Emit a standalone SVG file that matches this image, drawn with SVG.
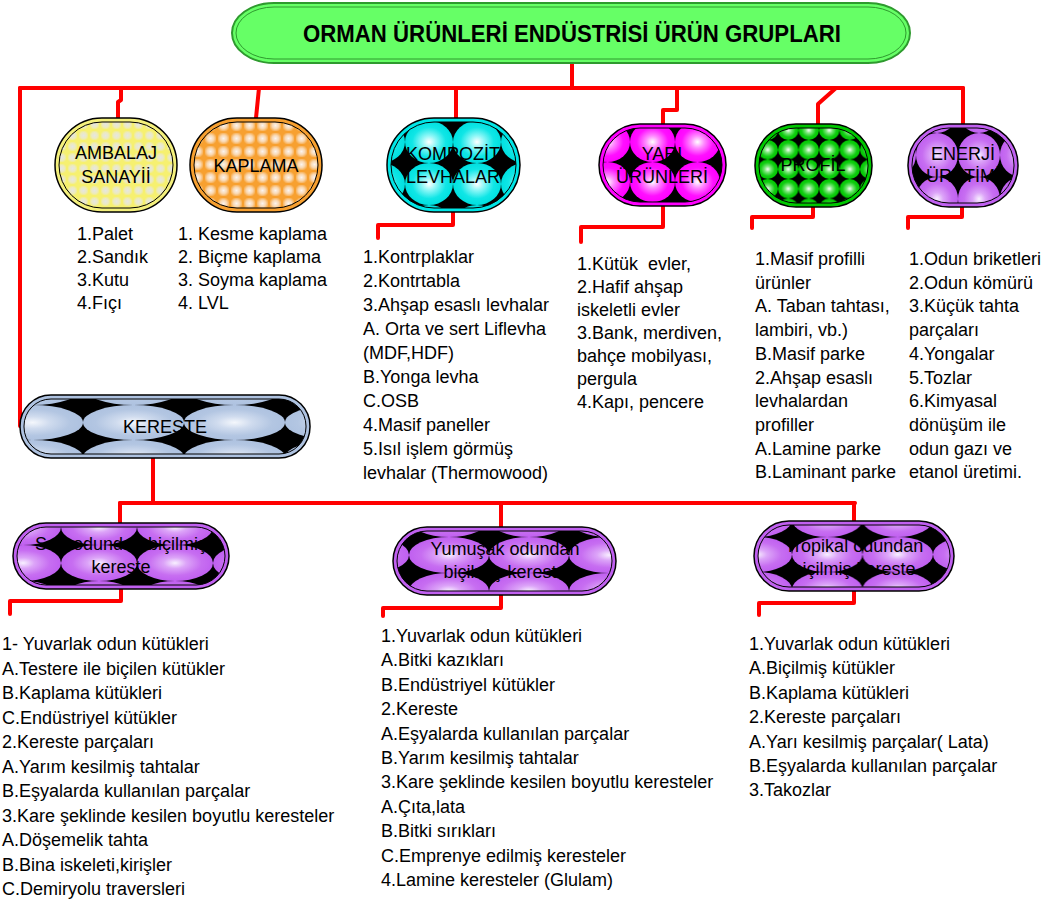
<svg xmlns="http://www.w3.org/2000/svg" width="1052" height="899" viewBox="0 0 1052 899">
<style>
text{font-family:"Liberation Sans",Arial,sans-serif;font-size:18px;fill:#000}
.lbl{text-anchor:middle}
.title{font-weight:bold;font-size:23px;text-anchor:middle}
.conn{fill:none;stroke:#ff0000;stroke-width:4;stroke-linejoin:round;stroke-linecap:round}
.outer{stroke:#000;stroke-width:1.5}
.inner{stroke:#000;stroke-width:1}
</style>
<defs>
<radialGradient id="gCyan" cx="0.5" cy="0.5" r="0.5"><stop offset="0" stop-color="#ffffff"/><stop offset="0.3" stop-color="#8ff7f7"/><stop offset="0.7" stop-color="#10e6e6"/><stop offset="1" stop-color="#00e0e0"/></radialGradient>
<radialGradient id="gMag" cx="0.5" cy="0.5" r="0.5"><stop offset="0" stop-color="#ffffff"/><stop offset="0.3" stop-color="#ff8cff"/><stop offset="0.7" stop-color="#ff10ff"/><stop offset="1" stop-color="#ff00ff"/></radialGradient>
<radialGradient id="gGreen" cx="0.5" cy="0.5" r="0.5"><stop offset="0" stop-color="#ffffff"/><stop offset="0.3" stop-color="#7ee87e"/><stop offset="0.7" stop-color="#10cc10"/><stop offset="1" stop-color="#00c800"/></radialGradient>
<radialGradient id="gPur" cx="0.5" cy="0.5" r="0.5"><stop offset="0" stop-color="#f8f0ff"/><stop offset="0.3" stop-color="#dca4f8"/><stop offset="0.7" stop-color="#c76ef1"/><stop offset="1" stop-color="#c060f0"/></radialGradient>
<radialGradient id="gBlue" cx="0.5" cy="0.5" r="0.5"><stop offset="0" stop-color="#f4f7fc"/><stop offset="0.35" stop-color="#cfdbee"/><stop offset="0.75" stop-color="#b3c6e2"/><stop offset="1" stop-color="#aec2e0"/></radialGradient>
<radialGradient id="gYel" cx="0.5" cy="0.5" r="0.6"><stop offset="0" stop-color="#e6e6e2"/><stop offset="0.55" stop-color="#eceabf"/><stop offset="1" stop-color="#f6f070"/></radialGradient>
<radialGradient id="gOr" cx="0.5" cy="0.5" r="0.6"><stop offset="0" stop-color="#fbf4ee"/><stop offset="0.5" stop-color="#f9d7b0"/><stop offset="1" stop-color="#f7a030"/></radialGradient>
<pattern id="pAmb" patternUnits="userSpaceOnUse" x="56" y="119" width="11" height="11"><rect width="11" height="11" fill="#f6f070"/><rect x="1" y="1" width="9" height="9" fill="url(#gYel)"/></pattern>
<pattern id="pKap" patternUnits="userSpaceOnUse" x="191" y="119" width="13" height="13"><rect width="13" height="13" fill="#f7a030"/><rect x="1" y="1" width="11" height="11" fill="url(#gOr)"/></pattern>
<pattern id="pKomp" patternUnits="userSpaceOnUse" x="405" y="163" width="48" height="42"><rect width="48" height="42" fill="#000"/><ellipse cx="24" cy="21" rx="24" ry="21" fill="url(#gCyan)"/></pattern>
<pattern id="pYari" patternUnits="userSpaceOnUse" x="675" y="162" width="45" height="40"><rect width="45" height="40" fill="#000"/><ellipse cx="22.5" cy="20" rx="22.5" ry="20" fill="url(#gMag)"/></pattern>
<pattern id="pProf" patternUnits="userSpaceOnUse" x="778" y="140" width="20.5" height="19.5"><rect width="20.5" height="19.5" fill="#000"/><ellipse cx="10.25" cy="9.75" rx="10.25" ry="9.75" fill="url(#gGreen)"/></pattern>
<pattern id="pEner" patternUnits="userSpaceOnUse" x="958" y="133" width="42" height="44"><rect width="42" height="44" fill="#000"/><ellipse cx="21" cy="22" rx="21" ry="22" fill="url(#gPur)"/></pattern>
<pattern id="pKer" patternUnits="userSpaceOnUse" x="83" y="405" width="101" height="35"><rect width="101" height="35" fill="#000"/><ellipse cx="50.5" cy="17.5" rx="50.5" ry="17.5" fill="url(#gBlue)"/></pattern>
<pattern id="pSert" patternUnits="userSpaceOnUse" x="137" y="545" width="76" height="36"><rect width="76" height="36" fill="#000"/><ellipse cx="38" cy="18" rx="38" ry="18" fill="url(#gPur)"/></pattern>
<pattern id="pYum" patternUnits="userSpaceOnUse" x="489" y="537" width="80" height="36"><rect width="80" height="36" fill="#000"/><ellipse cx="40" cy="18" rx="40" ry="18" fill="url(#gPur)"/></pattern>
<pattern id="pTrop" patternUnits="userSpaceOnUse" x="792" y="537" width="70.5" height="35"><rect width="70.5" height="35" fill="#000"/><ellipse cx="35.25" cy="17.5" rx="35.25" ry="17.5" fill="url(#gPur)"/></pattern>
</defs>
<rect width="1052" height="899" fill="#fff"/>

<g id="connectors">
<path class="conn" d="M572,63 V88"/>
<path class="conn" d="M20,88 H963"/>
<path class="conn" d="M20,88 V426"/>
<path class="conn" d="M121,88 V100 L118,102 V118"/>
<path class="conn" d="M259,88 L256,118"/>
<path class="conn" d="M456,88 V118"/>
<path class="conn" d="M677,88 V110 H663 V124"/>
<path class="conn" d="M836,88 L818,104 V124"/>
<path class="conn" d="M963,88 V124"/>
<path class="conn" d="M453,212 V225 H378 V238"/>
<path class="conn" d="M663,206 V227 H581 V242"/>
<path class="conn" d="M813,207 V217 H752 V228"/>
<path class="conn" d="M962,207 V217 H908 V228"/>
<path class="conn" d="M153,458 V503"/>
<path class="conn" d="M120,503 H855"/>
<path class="conn" d="M120,503 V523"/>
<path class="conn" d="M501,503 V528"/>
<path class="conn" d="M854,503 V521"/>
<path class="conn" d="M121,589 V601 H10 V614"/>
<path class="conn" d="M501,595 V608 H383 V616"/>
<path class="conn" d="M854,591 V603 H759 V615"/>
</g>

<g id="title">
<rect x="232" y="3" width="678" height="60" rx="42" ry="30" fill="#66ff66" stroke="#2e9a2e" stroke-width="2"/>
<rect x="236" y="7" width="670" height="52" rx="38" ry="26" fill="none" stroke="#2e9a2e" stroke-width="1"/>
<text class="title" x="572" y="42" textLength="538" lengthAdjust="spacingAndGlyphs">ORMAN ÜRÜNLERİ ENDÜSTRİSİ ÜRÜN GRUPLARI</text>
</g>

<g id="ambalaj">
<rect class="outer" x="55" y="118" width="122" height="94" rx="47" ry="47" fill="#f4f07c"/>
<rect class="inner" x="59" y="122" width="114" height="86" rx="43" ry="43" fill="url(#pAmb)"/>
<text class="lbl" x="116" y="159">AMBALAJ</text>
<text class="lbl" x="116" y="183">SANAYİİ</text>
</g>

<g id="kaplama">
<rect class="outer" x="190" y="118" width="132" height="94" rx="47" ry="47" fill="#f7a030"/>
<rect class="inner" x="194" y="122" width="124" height="86" rx="43" ry="43" fill="url(#pKap)"/>
<text class="lbl" x="256" y="172">KAPLAMA</text>
</g>

<g id="kompozit">
<rect class="outer" x="387" y="118" width="133" height="94" rx="47" ry="47" fill="#00e6e6"/>
<rect class="inner" x="391" y="122" width="125" height="86" rx="43" ry="43" fill="url(#pKomp)"/>
<text class="lbl" x="453" y="160">KOMPOZİT</text>
<text class="lbl" x="453" y="183">LEVHALAR</text>
</g>

<g id="yari">
<rect class="outer" x="599" y="124" width="127" height="82" rx="41" ry="41" fill="#ff00ff"/>
<rect class="inner" x="603" y="128" width="119" height="74" rx="37" ry="37" fill="url(#pYari)"/>
<text class="lbl" x="662" y="160">YARI</text>
<text class="lbl" x="662" y="183">ÜRÜNLERİ</text>
</g>

<g id="profil">
<rect class="outer" x="755" y="124" width="117" height="83" rx="41" ry="41" fill="#00c800"/>
<rect class="inner" x="759" y="128" width="109" height="75" rx="37" ry="37" fill="url(#pProf)"/>
<text class="lbl" x="813" y="171">PROFİL</text>
</g>

<g id="enerji">
<rect class="outer" x="908" y="124" width="110" height="83" rx="41" ry="41" fill="#c060f0"/>
<rect class="inner" x="912" y="128" width="102" height="75" rx="37" ry="37" fill="url(#pEner)"/>
<text class="lbl" x="963" y="160">ENERJİ</text>
<text class="lbl" x="963" y="182">ÜRETİMİ</text>
</g>

<g id="kereste">
<rect class="outer" x="20" y="395" width="290" height="63" rx="31" ry="31" fill="#aec2e0"/>
<rect class="inner" x="24" y="399" width="282" height="55" rx="27" ry="27" fill="url(#pKer)"/>
<text class="lbl" x="165" y="433">KERESTE</text>
</g>

<g id="sert">
<rect class="outer" x="13" y="523" width="216" height="66" rx="33" ry="33" fill="#c060f0"/>
<rect class="inner" x="17" y="527" width="208" height="58" rx="29" ry="29" fill="url(#pSert)"/>
<text class="lbl" x="121" y="550">Sert odundan biçilmiş</text>
<text class="lbl" x="121" y="573">kereste</text>
</g>

<g id="yumusak">
<rect class="outer" x="393" y="527" width="223" height="68" rx="34" ry="34" fill="#c060f0"/>
<rect class="inner" x="397" y="531" width="215" height="60" rx="30" ry="30" fill="url(#pYum)"/>
<text class="lbl" x="505" y="555">Yumuşak odundan</text>
<text class="lbl" x="505" y="578">biçilmiş kereste</text>
</g>

<g id="tropikal">
<rect class="outer" x="754" y="521" width="200" height="70" rx="35" ry="35" fill="#c060f0"/>
<rect class="inner" x="758" y="525" width="192" height="62" rx="31" ry="31" fill="url(#pTrop)"/>
<text class="lbl" x="854" y="552">Tropikal odundan</text>
<text class="lbl" x="854" y="575">biçilmiş kereste</text>
</g>

<g id="list-ambalaj">
<text x="77" y="240"><tspan x="77">1.Palet</tspan><tspan x="77" dy="23">2.Sandık</tspan><tspan x="77" dy="23">3.Kutu</tspan><tspan x="77" dy="23">4.Fıçı</tspan></text>
</g>
<g id="list-kaplama">
<text x="178" y="240"><tspan x="178">1. Kesme kaplama</tspan><tspan x="178" dy="23">2. Biçme kaplama</tspan><tspan x="178" dy="23">3. Soyma kaplama</tspan><tspan x="178" dy="23">4. LVL</tspan></text>
</g>
<g id="list-kompozit">
<text x="363" y="263"><tspan x="363">1.Kontrplaklar</tspan><tspan x="363" dy="24">2.Kontrtabla</tspan><tspan x="363" dy="24">3.Ahşap esaslı levhalar</tspan><tspan x="363" dy="24">A. Orta ve sert Liflevha</tspan><tspan x="363" dy="24">(MDF,HDF)</tspan><tspan x="363" dy="24">B.Yonga levha</tspan><tspan x="363" dy="24">C.OSB</tspan><tspan x="363" dy="24">4.Masif paneller</tspan><tspan x="363" dy="24">5.Isıl işlem görmüş</tspan><tspan x="363" dy="24">levhalar (Thermowood)</tspan></text>
</g>
<g id="list-yari">
<text x="577" y="270" xml:space="preserve"><tspan x="577">1.Kütük  evler,</tspan><tspan x="577" dy="23">2.Hafif ahşap</tspan><tspan x="577" dy="23">iskeletli evler</tspan><tspan x="577" dy="23">3.Bank, merdiven,</tspan><tspan x="577" dy="23">bahçe mobilyası,</tspan><tspan x="577" dy="23">pergula</tspan><tspan x="577" dy="23">4.Kapı, pencere</tspan></text>
</g>
<g id="list-profil">
<text x="755" y="265"><tspan x="755">1.Masif profilli</tspan><tspan x="755" dy="23.7">ürünler</tspan><tspan x="755" dy="23.7">A. Taban tahtası,</tspan><tspan x="755" dy="23.7">lambiri, vb.)</tspan><tspan x="755" dy="23.7">B.Masif parke</tspan><tspan x="755" dy="23.7">2.Ahşap esaslı</tspan><tspan x="755" dy="23.7">levhalardan</tspan><tspan x="755" dy="23.7">profiller</tspan><tspan x="755" dy="23.7">A.Lamine parke</tspan><tspan x="755" dy="23.7">B.Laminant parke</tspan></text>
</g>
<g id="list-enerji">
<text x="909" y="265"><tspan x="909">1.Odun briketleri</tspan><tspan x="909" dy="23.7">2.Odun kömürü</tspan><tspan x="909" dy="23.7">3.Küçük tahta</tspan><tspan x="909" dy="23.7">parçaları</tspan><tspan x="909" dy="23.7">4.Yongalar</tspan><tspan x="909" dy="23.7">5.Tozlar</tspan><tspan x="909" dy="23.7">6.Kimyasal</tspan><tspan x="909" dy="23.7">dönüşüm ile</tspan><tspan x="909" dy="23.7">odun gazı ve</tspan><tspan x="909" dy="23.7">etanol üretimi.</tspan></text>
</g>
<g id="list-sert">
<text x="2" y="650"><tspan x="2">1- Yuvarlak odun kütükleri</tspan><tspan x="2" dy="24.5">A.Testere ile biçilen kütükler</tspan><tspan x="2" dy="24.5">B.Kaplama kütükleri</tspan><tspan x="2" dy="24.5">C.Endüstriyel kütükler</tspan><tspan x="2" dy="24.5">2.Kereste parçaları</tspan><tspan x="2" dy="24.5">A.Yarım kesilmiş tahtalar</tspan><tspan x="2" dy="24.5">B.Eşyalarda kullanılan parçalar</tspan><tspan x="2" dy="24.5">3.Kare şeklinde kesilen boyutlu keresteler</tspan><tspan x="2" dy="24.5">A.Döşemelik tahta</tspan><tspan x="2" dy="24.5">B.Bina iskeleti,kirişler</tspan><tspan x="2" dy="24.5">C.Demiryolu traversleri</tspan></text>
</g>
<g id="list-yumusak">
<text x="381" y="642"><tspan x="381">1.Yuvarlak odun kütükleri</tspan><tspan x="381" dy="24.4">A.Bitki kazıkları</tspan><tspan x="381" dy="24.4">B.Endüstriyel kütükler</tspan><tspan x="381" dy="24.4">2.Kereste</tspan><tspan x="381" dy="24.4">A.Eşyalarda kullanılan parçalar</tspan><tspan x="381" dy="24.4">B.Yarım kesilmiş tahtalar</tspan><tspan x="381" dy="24.4">3.Kare şeklinde kesilen boyutlu keresteler</tspan><tspan x="381" dy="24.4">A.Çıta,lata</tspan><tspan x="381" dy="24.4">B.Bitki sırıkları</tspan><tspan x="381" dy="24.4">C.Emprenye edilmiş keresteler</tspan><tspan x="381" dy="24.4">4.Lamine keresteler (Glulam)</tspan></text>
</g>
<g id="list-tropikal">
<text x="749" y="650"><tspan x="749">1.Yuvarlak odun kütükleri</tspan><tspan x="749" dy="24.4">A.Biçilmiş kütükler</tspan><tspan x="749" dy="24.4">B.Kaplama kütükleri</tspan><tspan x="749" dy="24.4">2.Kereste parçaları</tspan><tspan x="749" dy="24.4">A.Yarı kesilmiş parçalar( Lata)</tspan><tspan x="749" dy="24.4">B.Eşyalarda kullanılan parçalar</tspan><tspan x="749" dy="24.4">3.Takozlar</tspan></text>
</g>
</svg>
